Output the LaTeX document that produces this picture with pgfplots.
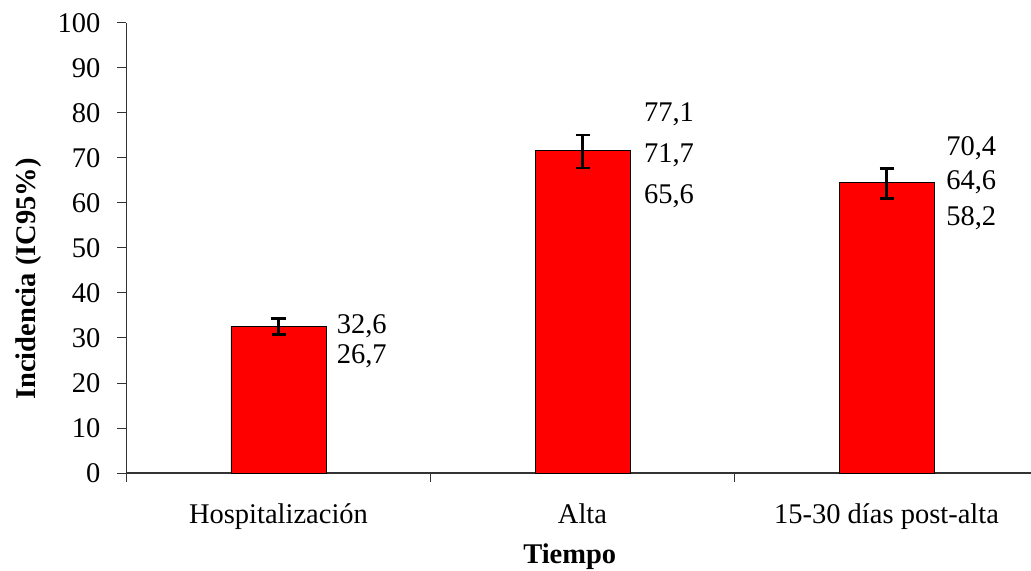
\documentclass[border=0pt]{standalone}
\usepackage{fontspec}
\setmainfont{Liberation Serif}
\usepackage{pgfplots}
\pgfplotsset{compat=1.18}
\begin{document}
\fontsize{28.5bp}{34bp}\selectfont
\begin{tikzpicture}
\useasboundingbox (-126.5bp,-98bp) rectangle (904.5bp,473bp);
\begin{axis}[
  at={(0,0)}, anchor=south west,
  scale only axis, width=912bp, height=450bp,
  xmin=-0.5, xmax=2.5, ymin=0, ymax=100,
  axis x line=bottom, axis y line=left,
  axis line style={-, line width=1.1bp, black!80},
  ytick={0,10,...,100},
  xtick={0,1,2},
  xticklabels={Hospitalización, Alta, 15-30 días post-alta},
  major x tick style={draw=none},
  minor xtick={-0.5,0.5,1.5,2.5},
  tick align=outside,
  major tick length=9bp, minor tick length=9bp,
  tick style={line width=1bp, black!80},
  /pgf/number format/assume math mode=true,
  ticklabel style={font=\fontsize{28.5bp}{34bp}\selectfont},
  yticklabel style={anchor=east, inner sep=0pt, xshift=-17bp},
  xticklabel style={anchor=base, inner sep=0pt, yshift=-42bp},
  xlabel={\textbf{Tiempo}},
  xlabel style={at={(axis description cs:0.486,-0.201)}, anchor=base, inner sep=0pt, font=\fontsize{28.5bp}{34bp}\selectfont},
  ylabel={\textbf{Incidencia (IC95\%)}},
  ylabel style={at={(axis description cs:-0.1,0.431)}, anchor=base, rotate=0, inner sep=0pt, font=\fontsize{28.5bp}{34bp}\selectfont},
  clip=false,
]
\addplot[ybar, bar width=95bp, fill=red, draw=black, line width=0.8bp,
  error bars/.cd, y dir=both, y explicit,
  error bar style={line width=2.6bp, black},
  error mark options={rotate=90, mark size=7bp, line width=2.6bp, black}]
  coordinates {
    (0,32.6) += (0,1.7) -= (0,1.8)
    (1,71.7) += (0,3.4) -= (0,3.9)
    (2,64.6) += (0,3.0) -= (0,3.6)
  };
\node[anchor=west, inner sep=0pt] at (axis cs:0.191,32.5) {32,6};
\node[anchor=west, inner sep=0pt] at (axis cs:0.191,25.9) {26,7};
\node[anchor=west, inner sep=0pt] at (axis cs:1.202,79.8) {77,1};
\node[anchor=west, inner sep=0pt] at (axis cs:1.202,70.7) {71,7};
\node[anchor=west, inner sep=0pt] at (axis cs:1.202,61.4) {65,6};
\node[anchor=west, inner sep=0pt] at (axis cs:2.196,72.2) {70,4};
\node[anchor=west, inner sep=0pt] at (axis cs:2.196,64.5) {64,6};
\node[anchor=west, inner sep=0pt] at (axis cs:2.196,56.6) {58,2};
\end{axis}
\end{tikzpicture}
\end{document}
